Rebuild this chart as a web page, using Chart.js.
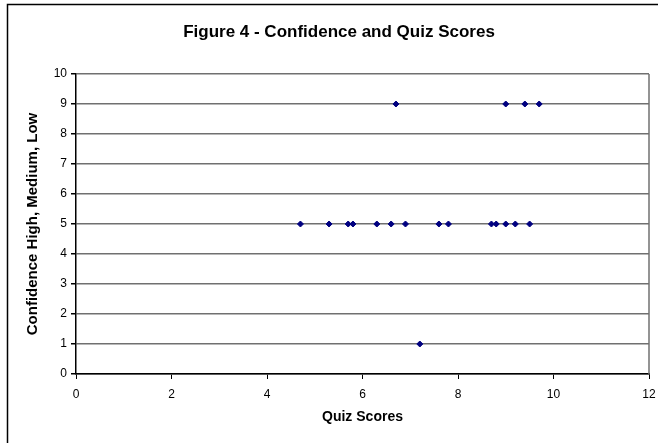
<!DOCTYPE html>
<html lang="en">
<head>
    <meta charset="UTF-8">
    <title>Figure 4 - Confidence and Quiz Scores</title>
    <script src="https://cdn.jsdelivr.net/npm/chart.js"></script>
    <style>
        html, body {
            margin: 0;
            padding: 0;
            background-color: #ffffff;
            overflow: hidden;
        }
        .chart-box {
            position: relative;
            width: 658px;
            height: 443px;
        }
    </style>
</head>
<body>
    <div class="chart-box">
        <canvas id="scoreChart" width="658" height="443"></canvas>
    </div>

    <script>
        // Quiz score / confidence pairs
        const quizScores = [4.7, 5.3, 5.7, 5.8, 6.3, 6.6, 6.9, 7.6, 7.8, 8.7, 8.8, 9.0, 9.2, 9.5,
                            6.7, 9.0, 9.4, 9.7,
                            7.2];
        const confidence = [5, 5, 5, 5, 5, 5, 5, 5, 5, 5, 5, 5, 5, 5,
                            9, 9, 9, 9,
                            1];
        const xTicks = [0, 2, 4, 6, 8, 10, 12];
        const yTicks = [0, 1, 2, 3, 4, 5, 6, 7, 8, 9, 10];

        const fontFamily = "'Liberation Sans', Arial, Helvetica, sans-serif";

        const points = quizScores.map((x, i) => ({ x: x, y: confidence[i] }));

        // outer frame, grey right edge of the plot area, title nudge
        const framePlugin = {
            id: 'frame',
            afterLayout(chart) {
                // the original title sits a bit right of the canvas centre
                const tb = chart.titleBlock;
                if (tb) {
                    tb.left = 2 * 339 - tb.right;
                }
            },
            beforeDatasetsDraw(chart) {
                const { ctx, chartArea } = chart;
                ctx.save();
                ctx.strokeStyle = '#707070';
                ctx.lineWidth = 1.5;
                ctx.beginPath();
                ctx.moveTo(chartArea.right, chartArea.top);
                ctx.lineTo(chartArea.right, chartArea.bottom);
                ctx.stroke();
                ctx.restore();
            },
            afterDraw(chart) {
                const { ctx } = chart;
                ctx.save();
                ctx.strokeStyle = '#000000';
                ctx.lineWidth = 1.5;
                ctx.beginPath();
                ctx.moveTo(7.5, chart.height + 2);
                ctx.lineTo(7.5, 4.5);
                ctx.lineTo(chart.width + 2, 4.5);
                ctx.stroke();
                ctx.restore();
            }
        };

        const ctx = document.getElementById('scoreChart').getContext('2d');
        new Chart(ctx, {
            type: 'scatter',
            data: {
                datasets: [{
                    label: 'Confidence',
                    data: points,
                    pointStyle: 'rectRot',
                    pointRadius: 3,
                    pointHoverRadius: 3,
                    backgroundColor: '#000080',
                    borderColor: '#000080',
                    borderWidth: 1
                }]
            },
            options: {
                responsive: false,
                animation: false,
                devicePixelRatio: 1,
                layout: {
                    padding: { left: 0, right: 9, top: 0, bottom: 0 }
                },
                plugins: {
                    legend: { display: false },
                    tooltip: { enabled: false },
                    title: {
                        display: true,
                        text: 'Figure 4 - Confidence and Quiz Scores',
                        color: '#000000',
                        font: { family: fontFamily, size: 17, weight: 'bold' },
                        padding: { top: 21.8, bottom: 31.8 }
                    }
                },
                scales: {
                    x: {
                        type: 'linear',
                        min: 0,
                        max: 12,
                        afterBuildTicks: (scale) => {
                            scale.ticks = xTicks.map(v => ({ value: v }));
                        },
                        afterFit: (scale) => {
                            scale.height = 69;
                            scale.paddingLeft = 0;
                            scale.paddingRight = 0;
                        },
                        ticks: {
                            color: '#000000',
                            font: { family: fontFamily, size: 12 },
                            padding: 8,
                            maxRotation: 0
                        },
                        grid: {
                            drawOnChartArea: false,
                            drawTicks: true,
                            tickLength: 5,
                            tickColor: '#000000'
                        },
                        border: { display: true, color: '#000000', width: 1.5 },
                        title: {
                            display: true,
                            text: 'Quiz Scores',
                            color: '#000000',
                            font: { family: fontFamily, size: 14, weight: 'bold' },
                            padding: { top: 4, bottom: 17.6 }
                        }
                    },
                    y: {
                        type: 'linear',
                        min: 0,
                        max: 10,
                        afterBuildTicks: (scale) => {
                            scale.ticks = yTicks.map(v => ({ value: v }));
                        },
                        afterFit: (scale) => { scale.width = 76; },
                        ticks: {
                            color: '#000000',
                            font: { family: fontFamily, size: 12 },
                            padding: 4
                        },
                        grid: {
                            color: '#707070',
                            lineWidth: 1.5,
                            drawTicks: true,
                            tickLength: 5,
                            tickColor: '#000000'
                        },
                        border: { display: true, color: '#000000', width: 1.5 },
                        title: {
                            display: true,
                            text: 'Confidence High, Medium, Low',
                            color: '#000000',
                            font: { family: fontFamily, size: 15, weight: 'bold' },
                            padding: { top: 24, bottom: 4 }
                        }
                    }
                }
            },
            plugins: [framePlugin]
        });
    </script>
</body>
</html>
